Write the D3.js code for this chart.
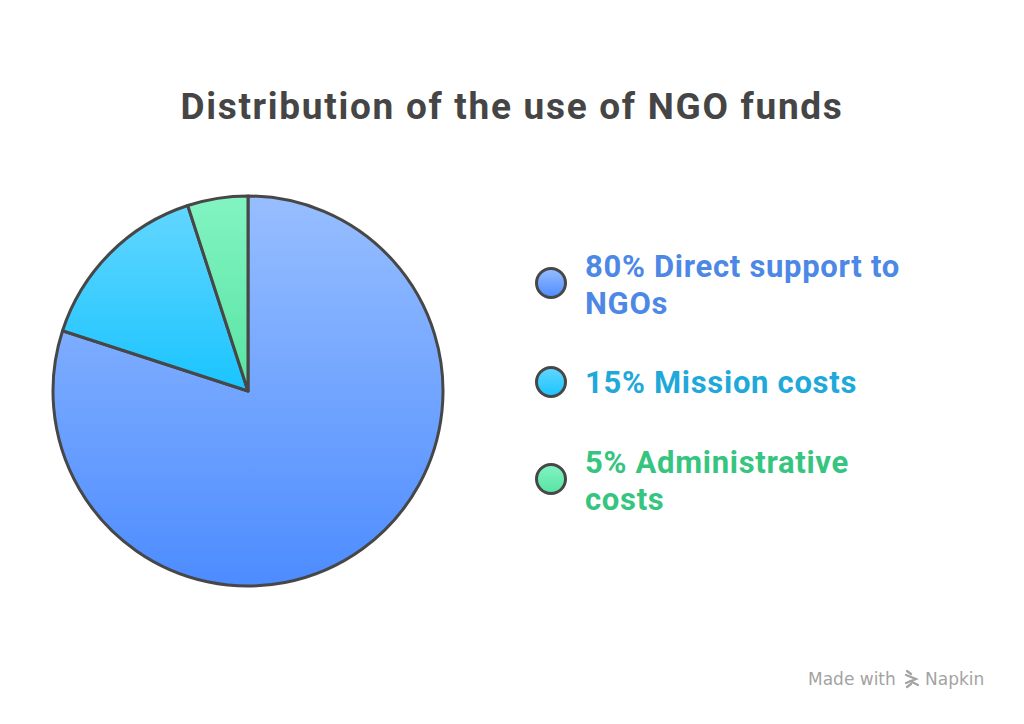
<!DOCTYPE html>
<html><head><meta charset="utf-8">
<script src="https://cdn.jsdelivr.net/npm/d3@7"></script>
<style>body{margin:0;background:#fff}svg{display:block}</style>
</head><body>
<svg id="c" width="1024" height="724"></svg>
<script>
const title = "Distribution of the use of NGO funds";
const labels = ["Direct support to NGOs", "Mission costs", "Administrative costs"];
const values = [80, 15, 5];
const legendLines = [["80% Direct support to", "NGOs"], ["15% Mission costs"], ["5% Administrative", "costs"]];
const gradTop = ["#97beff", "#62d6ff", "#82f4c2"];
const gradBot = ["#4d8cff", "#1ac4ff", "#58e3a2"];
const textColors = ["#4d88e6", "#1fa9da", "#35c57f"];

const svg = d3.select("#c");
const defs = svg.append("defs");
values.forEach((v, i) => {
  const g = defs.append("linearGradient").attr("id", "g" + i)
    .attr("x1", 0).attr("y1", 0).attr("x2", 0).attr("y2", 1);
  g.append("stop").attr("offset", "0%").attr("stop-color", gradTop[i]);
  g.append("stop").attr("offset", "100%").attr("stop-color", gradBot[i]);
});

svg.append("text").attr("x", 512).attr("y", 119).attr("text-anchor", "middle")
  .attr("font-family", "Roboto").attr("font-weight", 700).attr("font-size", 37)
  .attr("letter-spacing", 1.7)
  .attr("fill", "#454545").text(title);

const cx = 248, cy = 391, r = 195;
const pie = d3.pie().sort(null).value(d => d);
const arc = d3.arc().innerRadius(0).outerRadius(r);
const gp = svg.append("g").attr("transform", `translate(${cx},${cy})`);
gp.selectAll("path").data(pie(values)).join("path")
  .attr("d", arc).attr("fill", (d, i) => `url(#g${i})`)
  .attr("stroke", "#474747").attr("stroke-width", 3).attr("stroke-linejoin", "round");

const legendY = [283, 382, 479];
const lg = svg.append("g");
legendLines.forEach((lines, i) => {
  lg.append("circle").attr("cx", 551).attr("cy", legendY[i]).attr("r", 14.5)
    .attr("fill", `url(#g${i})`).attr("stroke", "#474747").attr("stroke-width", 3);
  const n = lines.length;
  lines.forEach((t, j) => {
    lg.append("text").attr("x", 585).attr("y", (n > 1 ? legendY[i] - 6 : legendY[i] + 11) + j * 37)
      .attr("font-family", "Roboto").attr("font-weight", 700).attr("font-size", 31)
      .attr("letter-spacing", 0.7)
      .attr("fill", textColors[i]).text(t);
  });
});

// watermark
const wm = svg.append("g").attr("fill", "#a3a3a3");
wm.append("text").attr("x", 808).attr("y", 685).attr("font-family", "DejaVu Sans")
  .attr("font-size", 17).text("Made with");
const ic = wm.append("g").attr("transform", "translate(905,670)").attr("stroke", "#a3a3a3")
  .attr("stroke-width", 2.2).attr("fill", "none").attr("stroke-linecap", "round");
ic.append("path").attr("d", "M2,1 L6,4 M1,5 L11,9 L1,13 M6,14 L2,17 M5,11 L13,15");
wm.append("text").attr("x", 925).attr("y", 685).attr("font-family", "DejaVu Sans")
  .attr("font-size", 17).text("Napkin");
</script>
</body></html>
